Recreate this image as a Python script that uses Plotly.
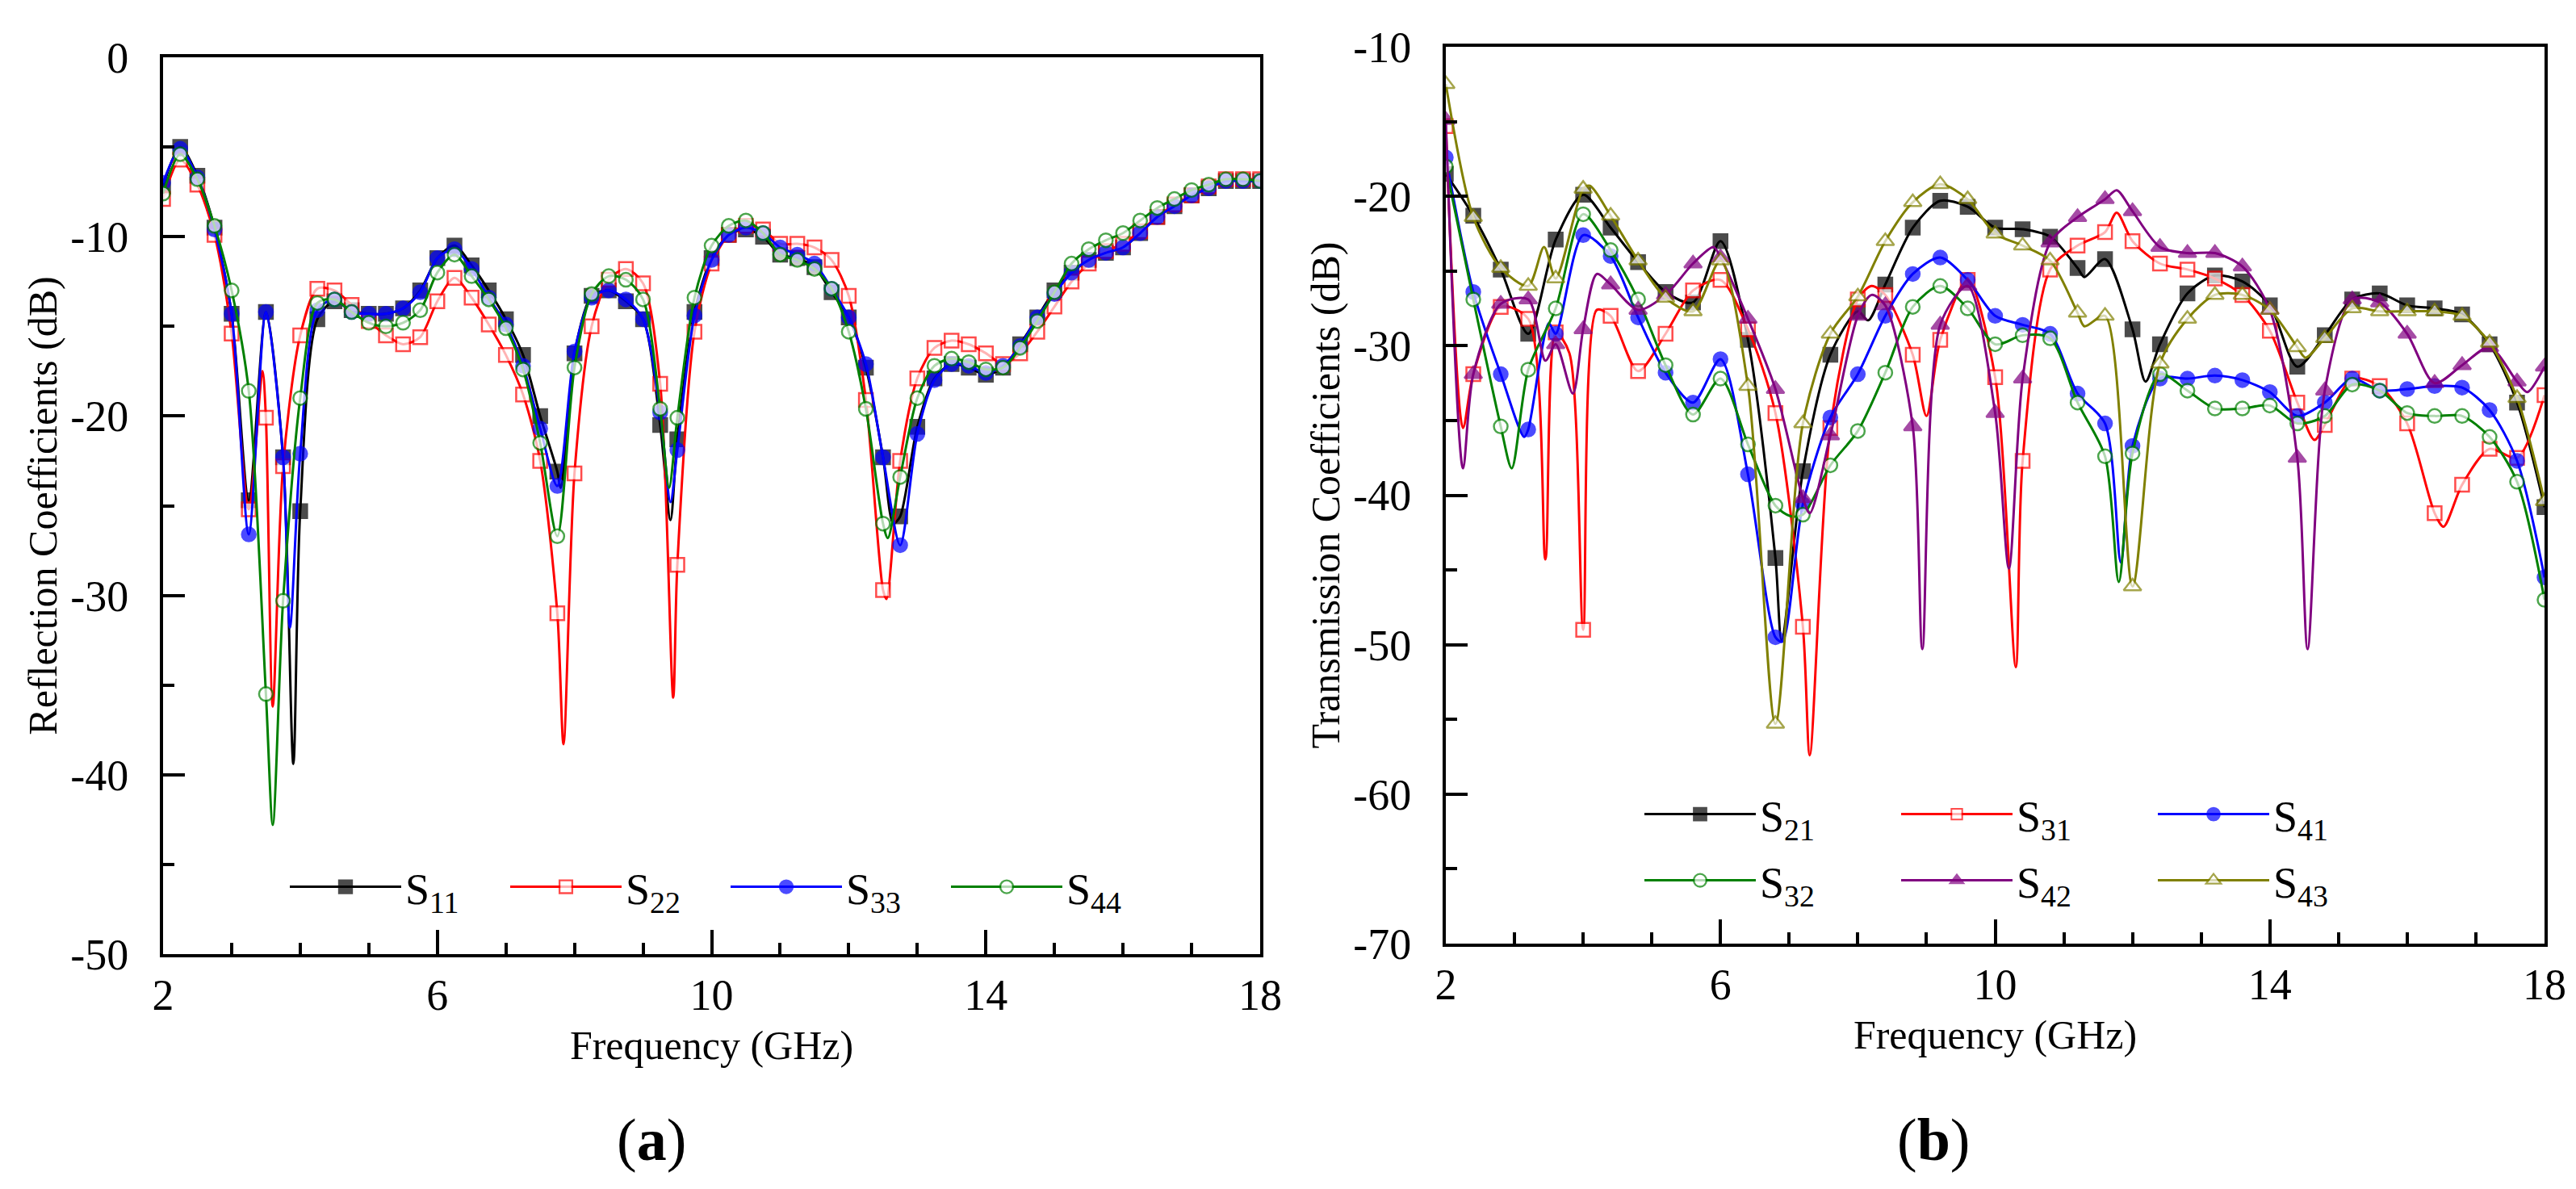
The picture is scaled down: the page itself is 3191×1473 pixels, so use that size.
import plotly.graph_objects as go

# ---- panel (a): reflection coefficients, markers every 0.25 GHz ----
freq_a = [2.0, 2.25, 2.5, 2.75, 3.0, 3.25, 3.5, 3.75, 4.0, 4.25, 4.5, 4.75, 5.0, 5.25, 5.5, 5.75,
          6.0, 6.25, 6.5, 6.75, 7.0, 7.25, 7.5, 7.75, 8.0, 8.25, 8.5, 8.75, 9.0, 9.25, 9.5, 9.75,
          10.0, 10.25, 10.5, 10.75, 11.0, 11.25, 11.5, 11.75, 12.0, 12.25, 12.5, 12.75, 13.0, 13.25,
          13.5, 13.75, 14.0, 14.25, 14.5, 14.75, 15.0, 15.25, 15.5, 15.75, 16.0, 16.25, 16.5, 16.75,
          17.0, 17.25, 17.5, 17.75, 18.0]

s11 = [-7.2, -5.0, -6.6, -9.5, -14.3, -24.7, -14.2, -22.3, -25.3,
       -14.6, -13.6, -14.1, -14.3, -14.3, -14.0, -13.0, -11.2,
       -10.5, -11.6, -13.0, -14.6, -16.6, -20.0, -23.1, -16.5,
       -13.3, -13.0, -13.6, -14.6, -20.5, -21.3, -14.2, -11.2,
       -9.9, -9.6, -10.0, -11.0, -11.2, -11.7, -13.1, -14.5,
       -17.3, -22.3, -25.6, -20.6, -17.9, -17.1, -17.3, -17.7,
       -17.3, -16.0, -14.5, -13.0, -12.0, -11.3, -10.9, -10.6,
       -9.8, -8.9, -8.3, -7.7, -7.3, -6.9, -6.9, -6.9]
s22 = [-7.9, -5.7, -7.1, -9.9, -15.4, -25.2, -20.1, -22.8, -15.5,
       -12.9, -13.0, -13.8, -14.7, -15.5, -16.0, -15.6, -13.6,
       -12.3, -13.4, -14.9, -16.6, -18.8, -22.5, -31.0, -23.2,
       -15.0, -12.4, -11.8, -12.6, -18.2, -28.3, -15.3, -11.5,
       -9.9, -9.4, -9.6, -10.4, -10.4, -10.6, -11.3, -13.3,
       -19.1, -29.7, -22.5, -17.9, -16.2, -15.8, -16.0, -16.5,
       -17.1, -16.5, -15.3, -13.9, -12.5, -11.5, -10.8, -10.4,
       -9.7, -8.9, -8.2, -7.7, -7.2, -6.8, -6.8, -6.8]
s33 = [-7.0, -5.1, -6.7, -9.6, -14.3, -26.6, -14.2, -22.3, -22.1,
       -14.1, -13.5, -14.2, -14.3, -14.3, -14.0, -13.1, -11.2,
       -10.7, -11.8, -13.4, -14.9, -17.2, -20.7, -23.9, -16.4,
       -13.4, -13.0, -13.5, -14.6, -19.8, -21.9, -14.4, -11.3,
       -9.9, -9.5, -9.8, -10.6, -11.0, -11.5, -12.9, -14.5,
       -17.1, -22.3, -27.2, -21.0, -18.0, -17.1, -17.2, -17.6,
       -17.2, -16.1, -14.5, -13.2, -12.0, -11.3, -10.9, -10.6,
       -9.8, -8.9, -8.3, -7.7, -7.3, -6.9, -6.9, -6.9]
s44 = [-7.6, -5.4, -6.8, -9.4, -13.0, -18.6, -35.5, -30.3, -19.0,
       -13.7, -13.5, -14.2, -14.8, -15.0, -14.8, -14.1, -12.0,
       -11.0, -12.2, -13.5, -15.1, -17.4, -21.5, -26.7, -17.3,
       -13.2, -12.2, -12.4, -13.5, -19.6, -20.1, -13.4, -10.5,
       -9.4, -9.1, -9.8, -11.0, -11.3, -11.8, -12.9, -15.3,
       -19.6, -26.0, -23.4, -19.0, -17.2, -16.8, -17.0, -17.4,
       -17.3, -16.2, -14.7, -13.1, -11.5, -10.7, -10.2, -9.8,
       -9.1, -8.4, -7.9, -7.4, -7.1, -6.8, -6.8, -6.9]

# resonance minima between the marker points (line only, no symbol)
s11_dip_f = [3.9, 7.8, 9.4, 12.65]
s11_dip = [-39.4, -24.0, -25.8, -26.0]
s22_dip_f = [3.45, 3.6, 7.84, 9.44, 12.55]
s22_dip = [-17.5, -36.2, -38.3, -35.7, -30.2]
s33_dip_f = [3.85, 9.4]
s33_dip = [-31.8, -24.8]
s44_dip_f = [3.6, 9.38, 12.57]
s44_dip = [-42.8, -24.0, -26.8]

# ---- panel (b): transmission coefficients, markers every 0.4 GHz ----
freq_b = [2.0, 2.4, 2.8, 3.2, 3.6, 4.0, 4.4, 4.8, 5.2, 5.6, 6.0, 6.4, 6.8, 7.2, 7.6, 8.0, 8.4,
          8.8, 9.2, 9.6, 10.0, 10.4, 10.8, 11.2, 11.6, 12.0, 12.4, 12.8, 13.2, 13.6, 14.0, 14.4,
          14.8, 15.2, 15.6, 16.0, 16.4, 16.8, 17.2, 17.6, 18.0]

s21 = [-18.5, -21.3, -24.9, -29.2, -22.9, -19.9, -22.1, -24.4, -26.4, -27.1, -23.0,
       -29.6, -44.2, -38.4, -30.6, -27.7, -25.9, -22.1, -20.3, -20.7, -22.1,
       -22.2, -22.7, -24.8, -24.2, -28.9, -29.9, -26.5, -25.3, -25.7, -27.3,
       -31.4, -29.3, -26.9, -26.5, -27.3, -27.5, -27.9, -29.9, -33.8, -40.8]
s31 = [-15.3, -31.9, -27.4, -28.2, -29.1, -49.0, -28.0, -31.7, -29.2, -26.3, -25.6,
       -28.9, -34.5, -48.8, -35.5, -26.9, -26.6, -30.6, -29.6, -25.6, -32.1,
       -37.7, -24.9, -23.3, -22.4, -23.0, -24.5, -24.9, -25.5, -26.6, -29.0,
       -33.8, -35.3, -32.2, -32.7, -35.2, -41.2, -39.3, -36.9, -37.5, -33.3]
s41 = [-17.4, -26.4, -31.9, -35.6, -29.2, -22.6, -24.0, -28.1, -31.8, -33.8, -30.9,
       -38.6, -49.5, -40.6, -34.8, -31.9, -28.0, -25.2, -24.1, -25.6, -28.0,
       -28.6, -29.2, -33.2, -35.2, -36.7, -32.2, -32.2, -32.0, -32.3, -33.1,
       -34.7, -33.8, -32.2, -33.0, -32.9, -32.7, -32.8, -34.3, -37.7, -45.5]
s32 = [-18.0, -26.9, -35.4, -31.6, -27.5, -21.2, -23.6, -26.9, -31.3, -34.6, -32.2,
       -36.6, -40.7, -41.3, -38.0, -35.7, -31.8, -27.4, -26.0, -27.5, -29.9,
       -29.3, -29.5, -33.8, -37.4, -37.2, -31.9, -33.0, -34.2, -34.2, -34.0,
       -35.2, -34.7, -32.6, -33.0, -34.5, -34.7, -34.7, -36.1, -39.1, -47.0]
s42 = [-14.9, -31.9, -27.2, -26.9, -29.9, -28.9, -25.9, -27.6, -26.6, -24.5, -24.1,
       -28.2, -32.9, -40.2, -36.0, -28.0, -27.3, -35.4, -28.6, -26.0, -34.5,
       -32.2, -23.1, -21.4, -20.2, -21.0, -23.4, -23.8, -23.8, -24.7, -27.6,
       -37.5, -33.0, -26.9, -27.1, -29.2, -32.5, -31.3, -30.1, -32.4, -31.4]
s43 = [-12.5, -21.4, -24.8, -26.0, -25.5, -19.5, -21.3, -24.3, -26.8, -27.7, -24.3,
       -32.7, -55.3, -35.2, -29.2, -26.7, -23.0, -20.4, -19.2, -20.2, -22.5,
       -23.3, -24.3, -27.8, -28.0, -46.1, -31.2, -28.2, -26.6, -26.6, -27.6,
       -30.1, -29.5, -27.5, -27.7, -27.7, -27.7, -28.0, -29.8, -33.5, -40.4]

s21_dip_f = [6.89, 8.15, 11.3, 12.19]
s21_dip = [-49.7, -28.3, -25.4, -32.4]
s31_dip_f = [2.25, 3.45, 3.8, 4.2, 7.3, 8.2, 9.0, 10.3, 11.77, 14.65, 16.53]
s31_dip = [-35.5, -44.3, -30.5, -27.6, -57.4, -26.0, -34.7, -51.5, -21.1, -36.3, -42.1]
s41_dip_f = [3.14, 3.5, 6.9, 11.83]
s41_dip = [-36.1, -28.5, -49.8, -44.5]
s32_dip_f = [2.96, 7.02, 11.8]
s32_dip = [-38.2, -41.4, -45.8]
s42_dip_f = [2.25, 3.45, 3.85, 4.2, 5.9, 7.3, 8.2, 8.94, 10.2, 11.77, 14.55, 17.75]
s42_dip = [-38.2, -31.0, -33.2, -25.2, -23.4, -41.2, -26.6, -50.3, -44.9, -19.6, -50.3, -33.1]
s43_dip_f = [3.43, 4.1, 11.3, 14.52]
s43_dip = [-23.4, -19.3, -28.7, -30.8]

# tick labels use a plain hyphen, as in the original
x_ticks = [2, 6, 10, 14, 18]
y_ticks_a = [0, -10, -20, -30, -40, -50]
y_ticks_b = [-10, -20, -30, -40, -50, -60, -70]

FONT = "Liberation Serif"


def merge(fx, fy, dx, dy, size):
    # marker points keep their symbol, extra dip points are drawn by the line only
    pts = sorted([(x, y, size) for x, y in zip(fx, fy)] + [(x, y, 0) for x, y in zip(dx, dy)])
    return [p[0] for p in pts], [p[1] for p in pts], [p[2] for p in pts]


def add_series(fig, name, fx, fy, dx, dy, color, symbol, filled, xa, ya, leg, size=17):
    x, y, sizes = merge(fx, fy, dx, dy, size)
    lw = [2.5 if s else 0 for s in sizes]
    fig.add_trace(go.Scatter(
        x=x, y=y, name=name, mode='lines+markers', xaxis=xa, yaxis=ya, legend=leg,
        line=dict(color=color, width=3, shape='spline', smoothing=0.8),
        marker=dict(symbol=symbol, size=sizes, color=color if filled else 'white',
                    line=dict(color=color, width=lw))))


fig = go.Figure()

add_series(fig, 'S<sub>11</sub>', freq_a, s11, s11_dip_f, s11_dip, 'black', 'square', True, 'x', 'y', 'legend')
add_series(fig, 'S<sub>22</sub>', freq_a, s22, s22_dip_f, s22_dip, '#ff0000', 'square', False, 'x', 'y', 'legend')
add_series(fig, 'S<sub>33</sub>', freq_a, s33, s33_dip_f, s33_dip, '#0000ff', 'circle', True, 'x', 'y', 'legend')
add_series(fig, 'S<sub>44</sub>', freq_a, s44, s44_dip_f, s44_dip, '#008000', 'circle', False, 'x', 'y', 'legend')

add_series(fig, 'S<sub>21</sub>', freq_b, s21, s21_dip_f, s21_dip, 'black', 'square', True, 'x2', 'y2', 'legend2')
add_series(fig, 'S<sub>31</sub>', freq_b, s31, s31_dip_f, s31_dip, '#ff0000', 'square', False, 'x2', 'y2', 'legend2')
add_series(fig, 'S<sub>41</sub>', freq_b, s41, s41_dip_f, s41_dip, '#0000ff', 'circle', True, 'x2', 'y2', 'legend2')
add_series(fig, 'S<sub>32</sub>', freq_b, s32, s32_dip_f, s32_dip, '#008000', 'circle', False, 'x2', 'y2', 'legend3')
add_series(fig, 'S<sub>42</sub>', freq_b, s42, s42_dip_f, s42_dip, '#800080', 'triangle-up', True, 'x2', 'y2', 'legend3', 19)
add_series(fig, 'S<sub>43</sub>', freq_b, s43, s43_dip_f, s43_dip, '#808000', 'triangle-up', False, 'x2', 'y2', 'legend3', 19)

W, H = 3191, 1473


def xax(domain, anchor):
    return dict(domain=domain, anchor=anchor, range=[2, 18], automargin=False,
                tickvals=x_ticks, ticktext=[str(v) for v in x_ticks],
                ticks='inside', ticklen=30, tickwidth=4, tickcolor='black',
                minor=dict(dtick=1, tick0=2, ticks='inside', ticklen=14, tickwidth=4, tickcolor='black'),
                showline=True, linewidth=4, linecolor='black', mirror=True,
                showgrid=False, zeroline=False, ticklabelstandoff=0,
                tickfont=dict(family=FONT, size=54, color='black'),
                title=dict(text='Frequency (GHz)', standoff=16,
                           font=dict(family=FONT, size=50, color='black')))


def yax(domain, anchor, rng, ticks, title):
    return dict(domain=domain, anchor=anchor, range=rng, automargin=False,
                tickvals=ticks, ticktext=[str(v) for v in ticks],
                ticks='inside', ticklen=27, tickwidth=4, tickcolor='black',
                minor=dict(dtick=5, ticks='inside', ticklen=14, tickwidth=4, tickcolor='black'),
                showline=True, linewidth=4, linecolor='black', mirror=True,
                showgrid=False, zeroline=False, ticklabelstandoff=28,
                tickfont=dict(family=FONT, size=54, color='black'),
                title=dict(text=title, standoff=2,
                           font=dict(family=FONT, size=50, color='black')))


def leg(x, y, ew):
    return dict(orientation='h', x=x, y=y, xanchor='left', yanchor='middle',
                bgcolor='rgba(0,0,0,0)', itemwidth=138, entrywidth=ew,
                font=dict(family=FONT, size=54, color='black'))


fig.update_layout(
    width=W, height=H, margin=dict(l=0, r=0, t=0, b=0),
    paper_bgcolor='white', plot_bgcolor='white',
    font=dict(family=FONT, color='black'),
    xaxis=xax([194 / W, 1553 / W], 'y'),
    yaxis=yax([1 - 1174 / H, 1 - 63 / H], 'x', [-50, 0], y_ticks_a, 'Reflection Coefficients (dB)'),
    xaxis2=xax([1783 / W, 3144 / W], 'y2'),
    yaxis2=yax([1 - 1161 / H, 1 - 50 / H], 'x2', [-70, -10], y_ticks_b, 'Transmission Coefficients (dB)'),
    legend=leg(346 / W, 1 - 1091 / H, 120),
    legend2=leg(2024 / W, 1 - 1001 / H, 165),
    legend3=leg(2024 / W, 1 - 1083 / H, 165),
    annotations=[
        dict(text='(<b>a</b>)', x=799 / W, y=1 - 1404 / H, xref='paper', yref='paper',
             xanchor='center', yanchor='middle', showarrow=False,
             font=dict(family=FONT, size=74, color='black')),
        dict(text='(<b>b</b>)', x=2387 / W, y=1 - 1404 / H, xref='paper', yref='paper',
             xanchor='center', yanchor='middle', showarrow=False,
             font=dict(family=FONT, size=74, color='black')),
    ],
)

fig.write_html("out.html")
